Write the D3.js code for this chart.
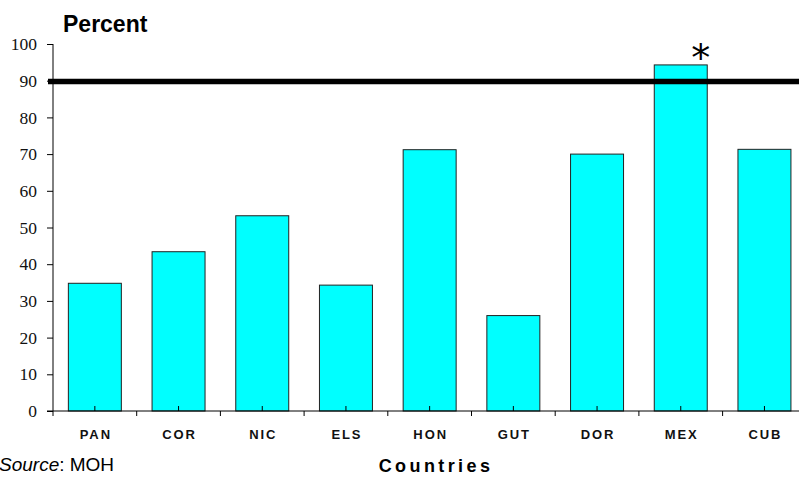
<!DOCTYPE html>
<html>
<head>
<meta charset="utf-8">
<script src="https://cdn.jsdelivr.net/npm/d3@7"></script>
<style>
  body { margin: 0; background: #fff; }
  svg { display: block; }
</style>
</head>
<body>
<div id="chart"></div>
<script>
// Data
const countries = ["PAN", "COR", "NIC", "ELS", "HON", "GUT", "DOR", "MEX", "CUB"]
const percent = [34.8, 43.4, 53.2, 34.3, 71.2, 26.0, 70.0, 94.3, 71.3]
const yTicks = [0, 10, 20, 30, 40, 50, 60, 70, 80, 90, 100]
const goal = 89.8
const starred = ["MEX"]

const width = 799
const height = 477

const svg = d3.select("#chart")
    .append("svg")
    .attr("width", width)
    .attr("height", height)

const x0 = 53, step = 83.7
const x = d3.scaleBand()
    .domain(countries)
    .range([x0, x0 + step * countries.length])
    .paddingInner(0.367)
    .paddingOuter(0.1835)

const y = d3.scaleLinear()
    .domain([0, 100])
    .range([411, 44])

// bars
svg.append("g")
    .selectAll("rect")
    .data(countries)
    .join("rect")
        .attr("x", d => x(d))
        .attr("y", (d, i) => y(percent[i]))
        .attr("width", x.bandwidth())
        .attr("height", (d, i) => y(0) - y(percent[i]))
        .attr("fill", "#00ffff")
        .attr("stroke", "#222")
        .attr("stroke-width", 1)

// y axis
const yAxis = svg.append("g")
    .attr("transform", `translate(${x0},0)`)
    .call(d3.axisLeft(y).tickValues(yTicks).tickSize(6).tickPadding(10))
yAxis.select(".domain").attr("d", `M0,${y(0)}V${y(100)}`).attr("stroke", "#000")
yAxis.selectAll("text")
    .attr("font-family", "Liberation Serif, Times New Roman, serif")
    .attr("font-size", 17.5)
    .attr("fill", "#111")
yAxis.selectAll("line").attr("stroke", "#000")

// x axis line
svg.append("line")
    .attr("x1", 47).attr("x2", width)
    .attr("y1", y(0)).attr("y2", y(0))
    .attr("stroke", "#000")

// boundary ticks (down) and centre ticks (up)
const bounds = d3.range(countries.length + 1).map(i => x0 + i * step)
svg.append("g")
    .selectAll("line")
    .data(bounds)
    .join("line")
        .attr("x1", d => d).attr("x2", d => d)
        .attr("y1", y(0)).attr("y2", y(0) + 5)
        .attr("stroke", "#000")
svg.append("g")
    .selectAll("line")
    .data(countries)
    .join("line")
        .attr("x1", d => x(d) + x.bandwidth() / 2)
        .attr("x2", d => x(d) + x.bandwidth() / 2)
        .attr("y1", y(0)).attr("y2", y(0) - 5)
        .attr("stroke", "#000")

// category labels
svg.append("g")
    .selectAll("text")
    .data(countries)
    .join("text")
        .attr("x", d => x(d) + x.bandwidth() / 2 + 1)
        .attr("y", 439)
        .attr("text-anchor", "middle")
        .attr("font-family", "Liberation Sans, Arial, sans-serif")
        .attr("font-weight", "bold")
        .attr("font-size", 13)
        .attr("letter-spacing", 1.9)
        .attr("fill", "#111")
        .text(d => d)

// goal line
svg.append("line")
    .attr("x1", 48).attr("x2", width)
    .attr("y1", y(goal)).attr("y2", y(goal))
    .attr("stroke", "#000")
    .attr("stroke-width", 5.5)

// asterisk
svg.append("g")
    .selectAll("text")
    .data(starred)
    .join("text")
        .attr("x", d => x(d) + x.bandwidth() / 2 + 20)
        .attr("y", d => y(percent[countries.indexOf(d)]) + 6)
        .attr("text-anchor", "middle")
        .attr("font-family", "DejaVu Sans, sans-serif")
        .attr("font-size", 38)
        .attr("fill", "#000")
        .text("*")

// titles
svg.append("text")
    .attr("x", 63).attr("y", 32)
    .attr("font-family", "Liberation Sans, Arial, sans-serif")
    .attr("font-weight", "bold")
    .attr("font-size", 23)
    .text("Percent")

svg.append("text")
    .attr("x", 436).attr("y", 472)
    .attr("text-anchor", "middle")
    .attr("font-family", "Liberation Sans, Arial, sans-serif")
    .attr("font-weight", "bold")
    .attr("font-size", 18)
    .attr("letter-spacing", 3.4)
    .text("Countries")

const src = svg.append("text")
    .attr("x", -1).attr("y", 471)
    .attr("font-family", "Liberation Sans, Arial, sans-serif")
    .attr("font-size", 19)
src.append("tspan").attr("font-style", "italic").text("Source")
src.append("tspan").text(": MOH")
</script>
</body>
</html>
